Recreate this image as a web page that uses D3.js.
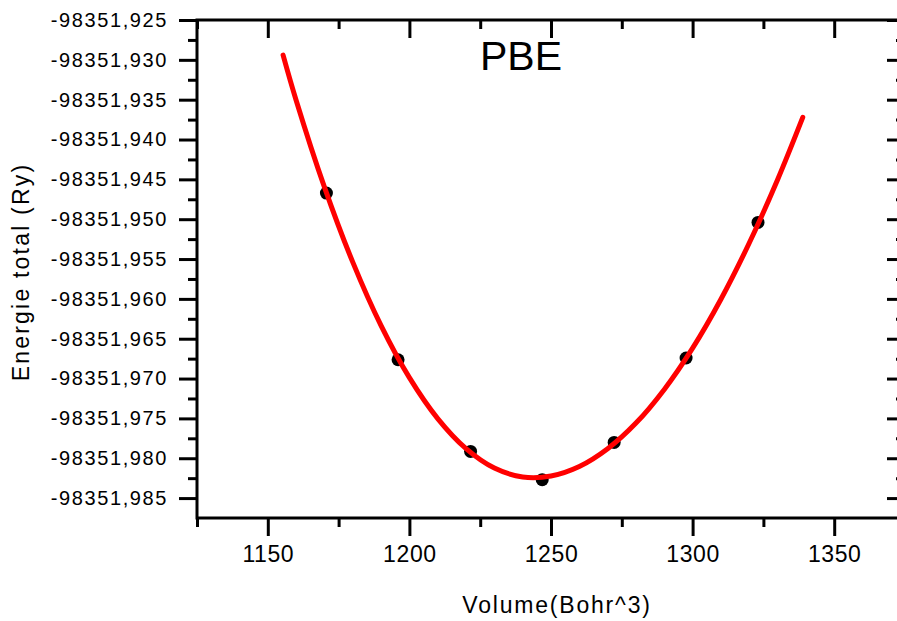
<!DOCTYPE html>
<html>
<head>
<meta charset="utf-8">
<script src="https://cdn.jsdelivr.net/npm/d3@7"></script>
<style>
  html, body { margin: 0; padding: 0; background: #fff; overflow: hidden; }
  svg { display: block; }
  text { font-family: "Liberation Sans", Arial, sans-serif; fill: #000; }
</style>
</head>
<body>
<svg id="chart" width="897" height="621"></svg>
<script>
// ---------- data ----------
const title = "PBE";
const xTitle = "Volume(Bohr^3)";
const yTitle = "Energie total (Ry)";

const volumes = [1170.7, 1196.0, 1221.6, 1246.9, 1272.3, 1297.7, 1323.1];
const energies = [-98351.94672, -98351.96764, -98351.97914, -98351.98269, -98351.97801, -98351.96742, -98351.95041];

const fitVolumes = [1155.4, 1160, 1170, 1180, 1190, 1200, 1210, 1220, 1230, 1240, 1250, 1260, 1270, 1280, 1290, 1300, 1310, 1320, 1330, 1338.9];
const fitEnergies = [-98351.92940, -98351.93506, -98351.94597, -98351.95539, -98351.96336, -98351.96989, -98351.97503, -98351.97880, -98351.98124, -98351.98235,
                     -98351.98223, -98351.98104, -98351.97881, -98351.97559, -98351.97136, -98351.96618, -98351.96004, -98351.95299, -98351.94504, -98351.93722];

const xMajorTicks = [1150, 1200, 1250, 1300, 1350];
const xMinorTicks = [1125, 1175, 1225, 1275, 1325, 1375];
const xTickLabels = ["1150", "1200", "1250", "1300", "1350"];
const yMajorTicks = [-98351.925, -98351.930, -98351.935, -98351.940, -98351.945, -98351.950, -98351.955, -98351.960, -98351.965, -98351.970, -98351.975, -98351.980, -98351.985];
const yMinorTicks = [-98351.9275, -98351.9325, -98351.9375, -98351.9425, -98351.9475, -98351.9525, -98351.9575, -98351.9625, -98351.9675, -98351.9725, -98351.9775, -98351.9825];
const yTickLabels = ["-98351,925", "-98351,930", "-98351,935", "-98351,940", "-98351,945", "-98351,950", "-98351,955", "-98351,960", "-98351,965", "-98351,970", "-98351,975", "-98351,980", "-98351,985"];
const xDomain = [1125, 1375];
const yDomain = [-98351.9875, -98351.925];

// ---------- layout ----------
const plot = { left: 197, right: 905, top: 20, bottom: 518 };
const svg = d3.select("#chart");

const x = d3.scaleLinear().domain(xDomain).range([plot.left, plot.right]);
const y = d3.scaleLinear().domain(yDomain).range([plot.bottom, plot.top]);

const majorLen = 18, minorLen = 9, axisW = 3;

function styleAxis(g) {
  g.select(".domain").remove();
  g.selectAll(".tick line").attr("stroke", "#000").attr("stroke-width", axisW);
}

// bottom axis
svg.append("g").attr("transform", `translate(0,${plot.bottom})`)
  .call(d3.axisBottom(x).tickValues(xMajorTicks).tickSize(majorLen).tickPadding(10)
    .tickFormat((d, i) => xTickLabels[i]))
  .call(styleAxis)
  .call(g => g.selectAll(".tick text").attr("font-size", 23).attr("letter-spacing", "0.6px")
    .attr("font-family", "Liberation Sans, Arial, sans-serif").attr("fill", "#000"));
svg.append("g").attr("transform", `translate(0,${plot.bottom})`)
  .call(d3.axisBottom(x).tickValues(xMinorTicks).tickSize(minorLen).tickFormat(""))
  .call(styleAxis);

// top axis (ticks inward)
svg.append("g").attr("transform", `translate(0,${plot.top})`)
  .call(d3.axisBottom(x).tickValues(xMajorTicks).tickSize(majorLen).tickFormat(""))
  .call(styleAxis);
svg.append("g").attr("transform", `translate(0,${plot.top})`)
  .call(d3.axisBottom(x).tickValues(xMinorTicks).tickSize(minorLen).tickFormat(""))
  .call(styleAxis);

// left axis
svg.append("g").attr("transform", `translate(${plot.left},0)`)
  .call(d3.axisLeft(y).tickValues(yMajorTicks).tickSize(majorLen).tickPadding(11)
    .tickFormat((d, i) => yTickLabels[i]))
  .call(styleAxis)
  .call(g => g.selectAll(".tick text").attr("font-size", 20).attr("letter-spacing", "1.6px")
    .attr("font-family", "Liberation Sans, Arial, sans-serif").attr("fill", "#000"));
svg.append("g").attr("transform", `translate(${plot.left},0)`)
  .call(d3.axisLeft(y).tickValues(yMinorTicks).tickSize(minorLen).tickFormat(""))
  .call(styleAxis);

// right axis (ticks inward)
svg.append("g").attr("transform", `translate(${plot.right},0)`)
  .call(d3.axisLeft(y).tickValues(yMajorTicks).tickSize(majorLen).tickFormat(""))
  .call(styleAxis);
svg.append("g").attr("transform", `translate(${plot.right},0)`)
  .call(d3.axisLeft(y).tickValues(yMinorTicks).tickSize(minorLen).tickFormat(""))
  .call(styleAxis);

// frame
svg.append("rect")
  .attr("x", plot.left).attr("y", plot.top)
  .attr("width", plot.right - plot.left).attr("height", plot.bottom - plot.top)
  .attr("fill", "none").attr("stroke", "#000").attr("stroke-width", axisW);

// data points
svg.append("g").selectAll("circle")
  .data(volumes.map((v, i) => [v, energies[i]]))
  .join("circle")
  .attr("cx", d => x(d[0])).attr("cy", d => y(d[1]))
  .attr("r", 6.5).attr("fill", "#000");

// fit curve
const line = d3.line().x(d => x(d[0])).y(d => y(d[1])).curve(d3.curveCatmullRom.alpha(0.5));
svg.append("path")
  .datum(fitVolumes.map((v, i) => [v, fitEnergies[i]]))
  .attr("d", line)
  .attr("fill", "none").attr("stroke", "#ff0000").attr("stroke-width", 5)
  .attr("stroke-linecap", "round").attr("stroke-linejoin", "round");

// title
svg.append("text").attr("x", 521).attr("y", 70).attr("text-anchor", "middle")
  .attr("font-size", 41).text(title);

// axis titles
svg.append("text").attr("x", 557).attr("y", 613).attr("text-anchor", "middle")
  .attr("font-size", 23).attr("letter-spacing", "1.8px").text(xTitle);
svg.append("text").attr("transform", "translate(29,272) rotate(-90)").attr("text-anchor", "middle")
  .attr("font-size", 23).attr("letter-spacing", "2.2px").text(yTitle);
</script>
</body>
</html>
